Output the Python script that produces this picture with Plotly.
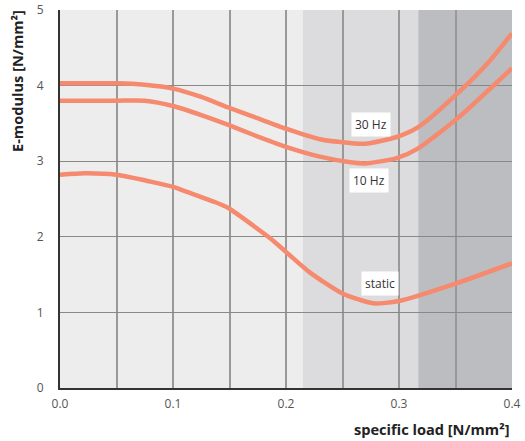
import plotly.graph_objects as go

# Data
x_30 = [0.0, 0.05, 0.075, 0.1, 0.125, 0.149, 0.171, 0.2, 0.23, 0.257, 0.27, 0.298, 0.317, 0.352, 0.381, 0.4]
y_30 = [4.03, 4.03, 4.01, 3.96, 3.85, 3.71, 3.59, 3.43, 3.29, 3.24, 3.23, 3.32, 3.45, 3.9, 4.34, 4.69]
x_10 = [0.0, 0.05, 0.075, 0.1, 0.125, 0.149, 0.171, 0.2, 0.23, 0.257, 0.27, 0.298, 0.317, 0.352, 0.4]
y_10 = [3.8, 3.8, 3.8, 3.73, 3.61, 3.48, 3.35, 3.19, 3.06, 2.985, 2.97, 3.04, 3.17, 3.57, 4.23]
x_st = [0.0, 0.022, 0.05, 0.08, 0.1, 0.115, 0.137, 0.149, 0.168, 0.186, 0.2, 0.221, 0.25, 0.277, 0.3, 0.35, 0.4]
y_st = [2.82, 2.84, 2.82, 2.73, 2.66, 2.58, 2.46, 2.38, 2.18, 1.98, 1.8, 1.53, 1.25, 1.12, 1.15, 1.38, 1.65]

label_text = ["30 Hz", "10 Hz", "static"]
label_x = [0.275, 0.2735, 0.283]
label_y = [3.49, 2.74, 1.38]

zone_edges = [0.0, 0.215, 0.317, 0.4]
zone_colors = ["#ededed", "#dcdcde", "#bcbdc0"]

x_tickvals = [0.0, 0.05, 0.1, 0.15, 0.2, 0.25, 0.3, 0.35, 0.4]
x_ticktext = ["0.0", "", "0.1", "", "0.2", "", "0.3", "", "0.4"]
y_tickvals = [0, 1, 2, 3, 4, 5]

curve_color = "#f58a6e"
FONT = "Open Sans"

fig = go.Figure()
for xs, ys in [(x_30, y_30), (x_10, y_10), (x_st, y_st)]:
    fig.add_trace(go.Scatter(x=xs, y=ys, mode="lines",
                             line=dict(color=curve_color, width=4.5, shape="spline", smoothing=0.6),
                             hoverinfo="skip", showlegend=False))

shapes = []
for i in range(len(zone_colors)):
    shapes.append(dict(type="rect", xref="x", yref="y", x0=zone_edges[i], x1=zone_edges[i + 1],
                       y0=0, y1=5, fillcolor=zone_colors[i], line=dict(width=0), layer="below"))

annotations = []
for t, lx, ly in zip(label_text, label_x, label_y):
    annotations.append(dict(x=lx, y=ly, xref="x", yref="y", text=t, showarrow=False,
                            bgcolor="white", borderpad=3,
                            font=dict(family=FONT, size=12, color="#333333")))
annotations.append(dict(x=1, y=0, xref="paper", yref="paper", xanchor="right", yanchor="top",
                        yshift=-29, text="<b>specific load [N/mm²]</b>", showarrow=False,
                        font=dict(family=FONT, size=14.6, color="#222222")))
annotations.append(dict(x=0, y=1, xref="paper", yref="paper", xanchor="center", yanchor="top",
                        xshift=-43, yshift=2, text="<b>E-modulus [N/mm²]</b>", textangle=-90, showarrow=False,
                        font=dict(family=FONT, size=14.6, color="#222222")))

fig.update_layout(
    width=525, height=441,
    margin=dict(l=60, r=13, t=10, b=53),
    paper_bgcolor="white", plot_bgcolor="white",
    shapes=shapes, annotations=annotations,
    font=dict(family=FONT, size=12, color="#555555"),
    xaxis=dict(range=[0, 0.4], tickvals=x_tickvals, ticktext=x_ticktext,
               showgrid=True, gridcolor="#999999", gridwidth=1.5, zeroline=False,
               showline=True, linecolor="#333333", linewidth=2, ticks="",
               ticklabelstandoff=4, layer="above traces", automargin=False),
    yaxis=dict(range=[0, 5], tickvals=y_tickvals,
               showgrid=True, gridcolor="#888888", gridwidth=1, zeroline=False,
               showline=True, linecolor="#333333", linewidth=2, ticks="",
               ticklabelstandoff=12, layer="above traces", automargin=False),
)

fig.write_html("out.html", config={"displayModeBar": False},
               post_script="document.body.style.margin='0';document.body.style.overflow='hidden';")
